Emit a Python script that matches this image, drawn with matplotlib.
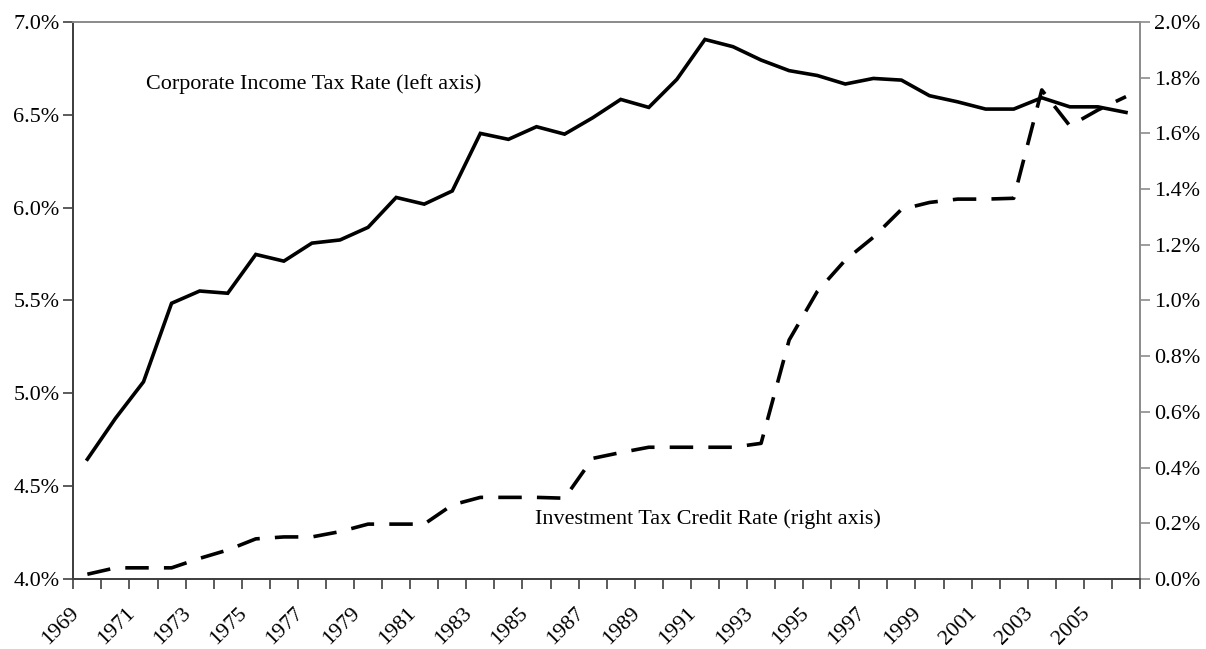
import matplotlib
matplotlib.use("Agg")
import matplotlib.pyplot as plt
from matplotlib.ticker import FixedLocator, FixedFormatter, FuncFormatter

plt.rcParams["font.family"] = ["Liberation Serif", "DejaVu Serif"]

years = list(range(1969, 2007))

# corporate income tax rate, % (left axis)
corp_rate = [4.645, 4.865, 5.062, 5.485, 5.551, 5.539, 5.748, 5.712, 5.809, 5.826,
             5.894, 6.055, 6.019, 6.090, 6.400, 6.368, 6.436, 6.396, 6.484, 6.583,
             6.540, 6.691, 6.906, 6.867, 6.795, 6.738, 6.712, 6.666, 6.696, 6.687,
             6.603, 6.570, 6.531, 6.531, 6.592, 6.543, 6.543, 6.513]

# investment tax credit rate, % (right axis)
itc_rate = [0.017, 0.040, 0.040, 0.040, 0.074, 0.104, 0.144, 0.151, 0.151, 0.170,
            0.197, 0.197, 0.197, 0.266, 0.293, 0.293, 0.293, 0.290, 0.433, 0.454,
            0.473, 0.473, 0.473, 0.473, 0.487, 0.858, 1.032, 1.145, 1.227, 1.327,
            1.352, 1.364, 1.364, 1.367, 1.756, 1.627, 1.684, 1.732]

left_ticks = [4.0, 4.5, 5.0, 5.5, 6.0, 6.5, 7.0]
right_ticks = [0.0, 0.2, 0.4, 0.6, 0.8, 1.0, 1.2, 1.4, 1.6, 1.8, 2.0]
year_labels = years[::2]

FS = 15.9
DARK = "#404040"
GREY = "#8c8c8c"

fig = plt.figure(figsize=(12.06, 6.49), dpi=100)
ax = fig.add_axes([0.0608, 0.1079, 0.8845, 0.8582])
ax2 = ax.twinx()

ax.plot(years, corp_rate, color="black", lw=2.6, solid_joinstyle="miter")
ax2.plot(years, itc_rate, color="black", lw=2.6, linestyle=(0, (6.5, 4.2)))

ax.set_xlim(years[0] - 0.5, years[-1] + 0.5)
ax.set_ylim(left_ticks[0], left_ticks[-1])
ax2.set_ylim(right_ticks[0], right_ticks[-1])

pct = FuncFormatter(lambda v, p: f"{v:.1f}%")
ax.yaxis.set_major_locator(FixedLocator(left_ticks))
ax.yaxis.set_major_formatter(pct)
ax2.yaxis.set_major_locator(FixedLocator(right_ticks))
ax2.yaxis.set_major_formatter(pct)

# invisible major ticks carry the slanted labels, nudged left of the
# category centre like Excel does; minor ticks mark category edges
ax.xaxis.set_major_locator(FixedLocator([y - 0.4 for y in year_labels]))
ax.xaxis.set_major_formatter(FixedFormatter([str(y) for y in year_labels]))
plt.setp(ax.get_xticklabels(), rotation=45, ha="right", va="center",
         rotation_mode="anchor")
ax.xaxis.set_minor_locator(FixedLocator([y - 0.5 for y in years] + [years[-1] + 0.5]))
ax.tick_params(axis="x", which="major", length=0, pad=23, labelsize=FS)
ax.tick_params(axis="x", which="minor", length=7, width=1.2, color=DARK,
               direction="out")
ax.tick_params(axis="y", length=7, width=1.2, color=DARK, labelsize=FS, pad=3)
ax2.tick_params(axis="y", length=7, width=1.2, color=GREY, labelsize=FS, pad=3)

for a in (ax, ax2):
    a.spines["left"].set_color(DARK)
    a.spines["bottom"].set_color(DARK)
    a.spines["top"].set_color(GREY)
    a.spines["right"].set_color(GREY)
    for s in a.spines.values():
        s.set_linewidth(1.3)

ax.text(1971.1, 6.666, "Corporate Income Tax Rate (left axis)", fontsize=FS,
        va="center", ha="left")
ax.text(1984.95, 4.32, "Investment Tax Credit Rate (right axis)", fontsize=FS,
        va="center", ha="left")

fig.savefig("out.png", dpi=100, facecolor="white")
